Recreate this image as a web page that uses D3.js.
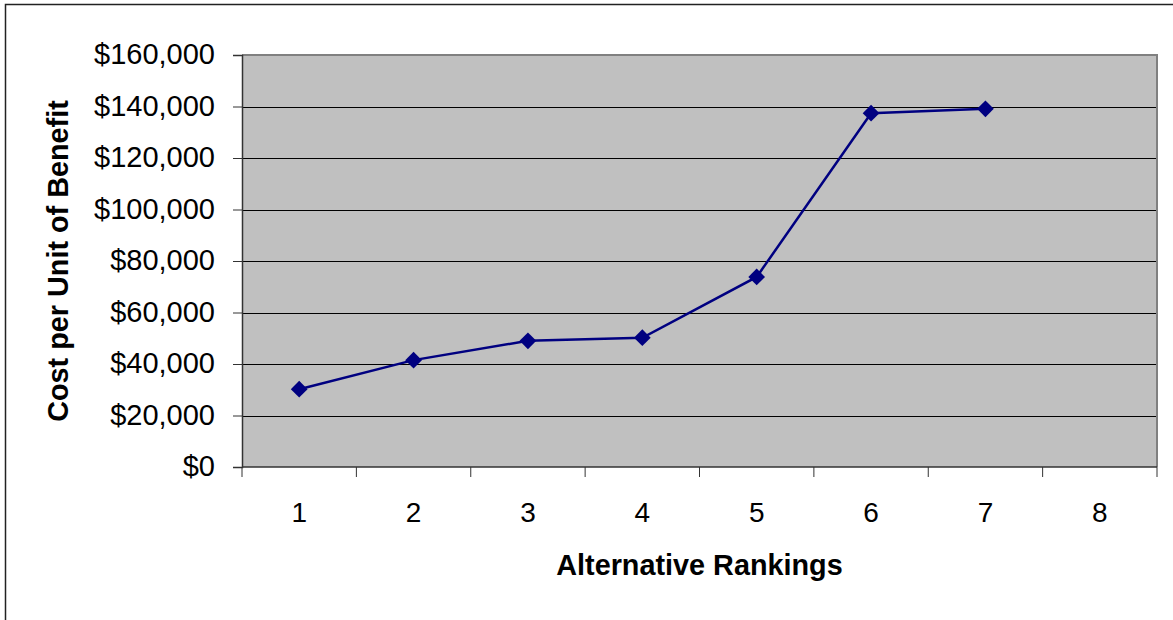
<!DOCTYPE html>
<html><head><meta charset="utf-8">
<script src="https://cdn.jsdelivr.net/npm/d3@7"></script>
<style>body{margin:0;background:#fff;}svg{display:block;font-family:"Liberation Sans",Arial,sans-serif;}</style>
</head><body>
<svg id="c" width="1173" height="620"></svg>
<script>
const categories = [1,2,3,4,5,6,7,8];
const costValues = [30200, 41500, 49000, 50200, 73800, 137400, 139100];
const yTicks = [0,20000,40000,60000,80000,100000,120000,140000,160000];
const xTitle = "Alternative Rankings";
const yTitle = "Cost per Unit of Benefit";

const svg = d3.select("#c");
const L=242, R=1157, T=55, B=467;
svg.append("rect").attr("x",5.5).attr("y",4.5).attr("width",1180).attr("height",640)
  .attr("fill","none").attr("stroke","#222").attr("stroke-width",1.5);

const x = d3.scaleBand().domain(categories).range([L,R]).padding(0);
const y = d3.scaleLinear().domain([0,160000]).range([B,T]);

svg.append("rect").attr("x",L).attr("y",T).attr("width",R-L).attr("height",B-T).attr("fill","#c0c0c0");
svg.append("g").selectAll("line").data(yTicks.slice(1,-1)).join("line")
  .attr("x1",L).attr("x2",R).attr("y1",d=>Math.round(y(d))+0.5).attr("y2",d=>Math.round(y(d))+0.5)
  .attr("stroke","#000").attr("stroke-width",1);
svg.append("path").attr("d",`M${L},${T}H${R}V${B}`).attr("fill","none").attr("stroke","#808080").attr("stroke-width",2);

const fmt = d=>"$"+d3.format(",")(d);
const yAxis = d3.axisLeft(y).tickValues(yTicks).tickFormat(fmt).tickSize(9).tickPadding(18);
const gy = svg.append("g").attr("transform",`translate(${L},0)`).call(yAxis);
gy.attr("font-size",null).attr("font-family",null);
gy.select(".domain").attr("stroke","#333").attr("stroke-width",1.5);
gy.selectAll(".tick line").attr("stroke","#333");
gy.selectAll("text").style("font-size","29px").attr("fill","#000").attr("dy","0.3em");

const gx = svg.append("g").attr("transform",`translate(0,${B})`);
gx.append("line").attr("x1",L).attr("x2",R).attr("stroke","#333").attr("stroke-width",1.5);
const bounds = categories.map(c=>x(c)).concat([R]);
gx.selectAll("line.t").data(bounds).join("line").attr("class","t")
  .attr("x1",d=>d).attr("x2",d=>d).attr("y1",0).attr("y2",10).attr("stroke","#333");
gx.selectAll("text").data(categories).join("text")
  .attr("x",d=>x(d)+x.bandwidth()/2).attr("y",55).attr("text-anchor","middle")
  .style("font-size","28px").text(d=>d);

const line = d3.line().x((d,i)=>x(categories[i])+x.bandwidth()/2).y(d=>y(d));
svg.append("path").datum(costValues).attr("d",line).attr("fill","none").attr("stroke","#000080").attr("stroke-width",2.5);
svg.append("g").selectAll("path").data(costValues).join("path")
  .attr("d",d3.symbol(d3.symbolSquare,140)())
  .attr("transform",(d,i)=>`translate(${x(categories[i])+x.bandwidth()/2},${y(d)}) rotate(45)`)
  .attr("fill","#000080");

svg.append("text").attr("x",(L+R)/2).attr("y",575).attr("text-anchor","middle")
  .style("font-size","28.8px").attr("font-weight","bold").text(xTitle);
svg.append("text").attr("transform",`translate(68,${(T+B)/2}) rotate(-90)`).attr("text-anchor","middle")
  .style("font-size","28.8px").attr("font-weight","bold").text(yTitle);
</script>
</body></html>
